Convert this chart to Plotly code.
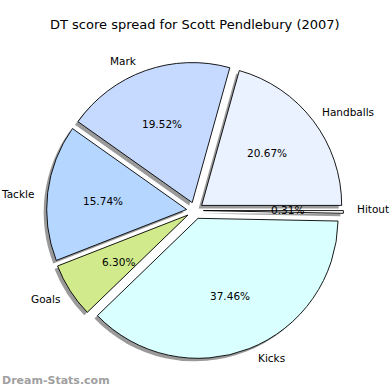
import math
import plotly.graph_objects as go

# ---- data ----
labels = ["Hitout", "Handballs", "Mark", "Tackle", "Goals", "Kicks"]
values = [0.31, 20.67, 19.52, 15.74, 6.30, 37.46]
colors = ["#ffffff", "#ebf2ff", "#c6d9ff", "#b4d6ff", "#d0ea8c", "#d9ffff"]
title_text = "DT score spread for Scott Pendlebury (2007)"
watermark = "Dream-Stats.com"

# ---- geometry / style ----
W = H = 390
PULL = 0.06
CX, CY = 195.0, 210.5   # pie centre in pixels
R = 140.0               # pie radius in pixels
HALF = R * (1 + PULL)
SH = 3.0                # shadow offset in pixels
FONT = "DejaVu Sans"


def domain(cx, cy):
    return dict(x=[(cx - HALF) / W, (cx + HALF) / W],
                y=[1 - (cy + HALF) / H, 1 - (cy - HALF) / H])


common = dict(values=values, labels=labels, sort=False, direction="counterclockwise",
              rotation=90, pull=[PULL] * len(values), textinfo="none",
              hoverinfo="none", showlegend=False)

fig = go.Figure()
# shadow
fig.add_trace(go.Pie(**common, domain=domain(CX - SH, CY + SH),
                     marker=dict(colors=["#9a9a9a"] * len(values),
                                 line=dict(color="#9a9a9a", width=0))))
# main pie
fig.add_trace(go.Pie(**common, domain=domain(CX, CY),
                     marker=dict(colors=colors, line=dict(color="#000000", width=0.9))))

# text placed from the data's own angles
annotations = []
total = sum(values)
start = 0.0
for lab, v in zip(labels, values):
    span = 360.0 * v / total
    mid = math.radians(start + span / 2)
    start += span
    c, s = math.cos(mid), math.sin(mid)
    off = PULL * R
    # percentage
    rp = off + 0.6 * R
    annotations.append(dict(x=(CX + rp * c) / W, y=1 - (CY - rp * s) / H,
                            xref="paper", yref="paper", showarrow=False,
                            text=f"{v:.2f}%", xanchor="center", yanchor="middle",
                            font=dict(family=FONT, size=10.5, color="#000")))
    # label
    rl = off + 1.08 * R
    annotations.append(dict(x=(CX + rl * c) / W, y=1 - (CY - rl * s) / H,
                            xref="paper", yref="paper", showarrow=False,
                            text=lab, xanchor="left" if c > 0 else "right",
                            yanchor="middle",
                            font=dict(family=FONT, size=10.5, color="#000")))

annotations.append(dict(x=0.5, y=1 - 25 / H, xref="paper", yref="paper", showarrow=False,
                        text=title_text, xanchor="center", yanchor="middle",
                        font=dict(family=FONT, size=13, color="#000")))
annotations.append(dict(x=0, y=1 - 380 / H, xref="paper", yref="paper", showarrow=False,
                        text=f"<b>{watermark}</b>", xanchor="left", yanchor="middle",
                        font=dict(family=FONT, size=11, color="#a0a0a0")))

fig.update_layout(width=W, height=H, margin=dict(l=0, r=0, t=0, b=0),
                  paper_bgcolor="white", plot_bgcolor="white",
                  annotations=annotations)

fig.write_html("out.html", config={"displayModeBar": False},
               post_script="document.body.style.margin='0px';document.body.style.overflow='hidden';")
